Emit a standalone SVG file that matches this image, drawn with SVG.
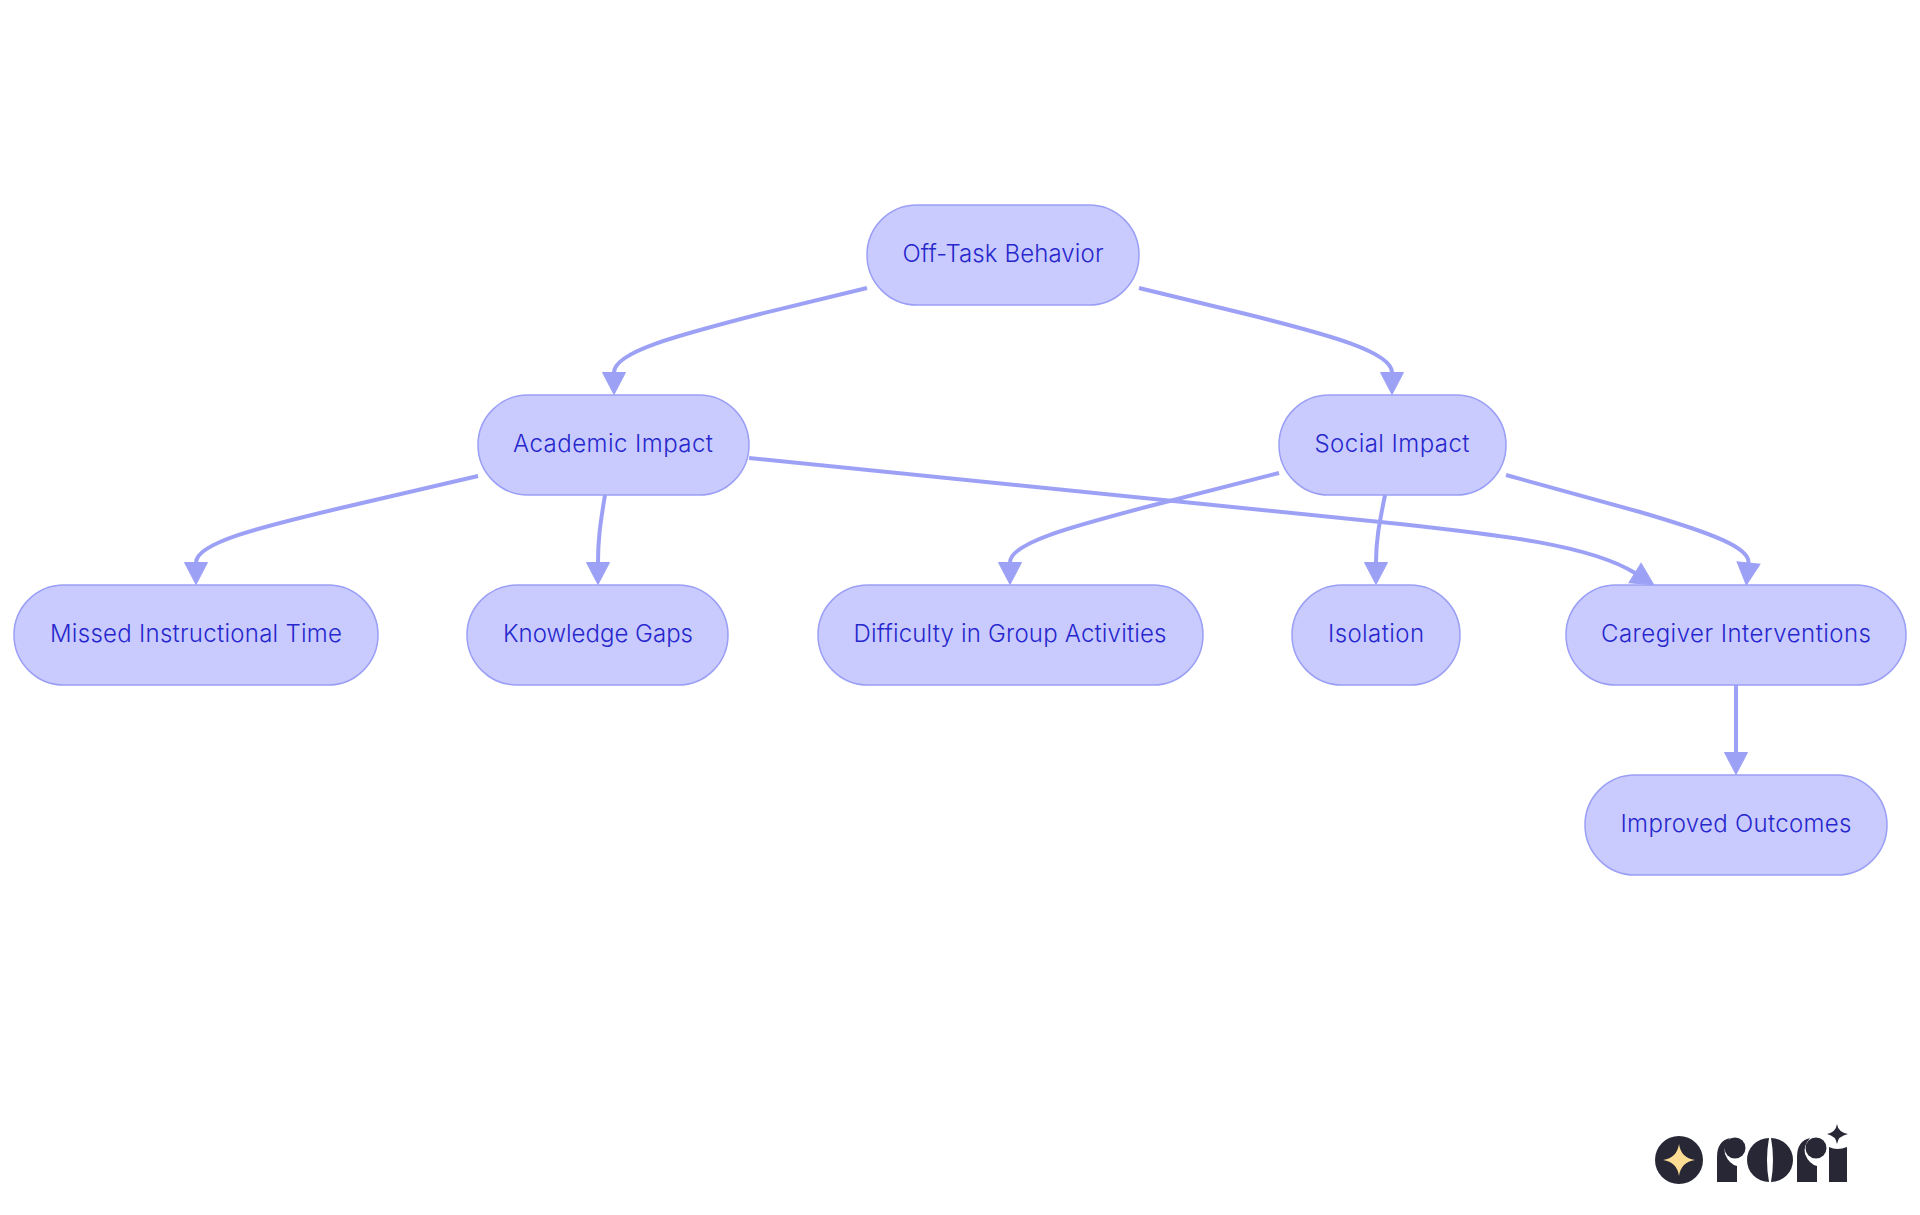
<svg xmlns="http://www.w3.org/2000/svg" width="1920" height="1215" viewBox="0 0 1920 1215">
<style>
.n{fill:#c9cbff;stroke:#9a9ff5;stroke-width:1.5}
.t{font-family:Inter,"Noto Sans",sans-serif;font-size:24px;font-weight:300;fill:#2727cc;text-anchor:middle}
.e{fill:none;stroke:#9da1f6;stroke-width:4}
.l{fill:#272736}
</style>
<defs><marker id="a" markerUnits="userSpaceOnUse" markerWidth="28" markerHeight="28" refX="1" refY="14" orient="auto" overflow="visible"><path d="M1 2.500L23 14L1 25.500z" fill="#9da1f6" stroke="#9da1f6" stroke-width="1"/></marker></defs>
<rect width="1920" height="1215" fill="#fff"/>
<g id="connectors">
<path class="e" marker-end="url(#a)" d="M867 288L760 314C675 336 614 352 614 372.500"/>
<path class="e" marker-end="url(#a)" d="M1139 288L1250 315C1330 335 1392 352 1392 372.500"/>
<path class="e" marker-end="url(#a)" d="M478 476L345 507C260 527 196 543 196 562.500"/>
<path class="e" marker-end="url(#a)" d="M605 495C600 525 598 540 598 562.500"/>
<path class="e" marker-end="url(#a)" d="M749 458L1400 524C1500 535 1590 545 1635 573"/>
<path class="e" marker-end="url(#a)" d="M1279 473L1150 506C1070 527 1010 543 1010 562.500"/>
<path class="e" marker-end="url(#a)" d="M1385 495C1379 525 1376 540 1376 562.500"/>
<path class="e" marker-end="url(#a)" d="M1506 475L1640 512C1715 534 1750 548 1748.500 563"/>
<path class="e" marker-end="url(#a)" d="M1736 685V752.500"/>
</g>
<g id="off-task"><rect class="n" x="867" y="205" width="272" height="100" rx="50"/><text class="t" x="1003" y="262" textLength="201">Off-Task Behavior</text></g>
<g id="academic"><rect class="n" x="478" y="395" width="271" height="100" rx="50"/><text class="t" x="613" y="452" textLength="200">Academic Impact</text></g>
<g id="social"><rect class="n" x="1279" y="395" width="227" height="100" rx="50"/><text class="t" x="1392" y="452" textLength="155">Social Impact</text></g>
<g id="missed"><rect class="n" x="14" y="585" width="364" height="100" rx="50"/><text class="t" x="196" y="642" textLength="292">Missed Instructional Time</text></g>
<g id="knowledge"><rect class="n" x="467" y="585" width="261" height="100" rx="50"/><text class="t" x="598" y="642" textLength="190">Knowledge Gaps</text></g>
<g id="difficulty"><rect class="n" x="818" y="585" width="385" height="100" rx="50"/><text class="t" x="1010" y="642" textLength="313">Difficulty in Group Activities</text></g>
<g id="isolation"><rect class="n" x="1292" y="585" width="168" height="100" rx="50"/><text class="t" x="1376" y="642" textLength="96">Isolation</text></g>
<g id="caregiver"><rect class="n" x="1566" y="585" width="340" height="100" rx="50"/><text class="t" x="1736" y="642" textLength="270">Caregiver Interventions</text></g>
<g id="improved"><rect class="n" x="1585" y="775" width="302" height="100" rx="50"/><text class="t" x="1736" y="832" textLength="231">Improved Outcomes</text></g>
<g id="logo">
<circle class="l" cx="1679" cy="1160" r="24"/>
<path d="M1679 1144Q1681 1158 1695 1160Q1681 1162 1679 1176Q1677 1162 1663 1160Q1677 1158 1679 1144z" fill="#fddc94"/>
<path class="l" d="M1717 1182V1157Q1717 1141 1730 1138Q1723 1146 1725 1154Q1729 1164 1737 1166V1182z"/>
<circle class="l" cx="1735" cy="1148" r="10.500"/>
<path class="l" d="M1769 1138A22 22 0 0 0 1769 1182Q1765 1160 1769 1138z"/>
<path class="l" d="M1771 1138A22 22 0 0 1 1771 1182Q1775 1160 1771 1138z"/>
<path class="l" d="M1797 1182V1157Q1797 1141 1810 1138Q1803 1146 1805 1154Q1809 1164 1817 1166V1182z"/>
<circle class="l" cx="1816" cy="1148" r="10.500"/>
<path class="l" d="M1829 1147Q1837 1151 1847 1147V1182H1829z"/>
<path class="l" d="M1837 1124Q1838 1132 1848 1134Q1838 1136 1837 1144Q1836 1136 1827 1134Q1836 1132 1837 1124z"/>
</g>
</svg>
